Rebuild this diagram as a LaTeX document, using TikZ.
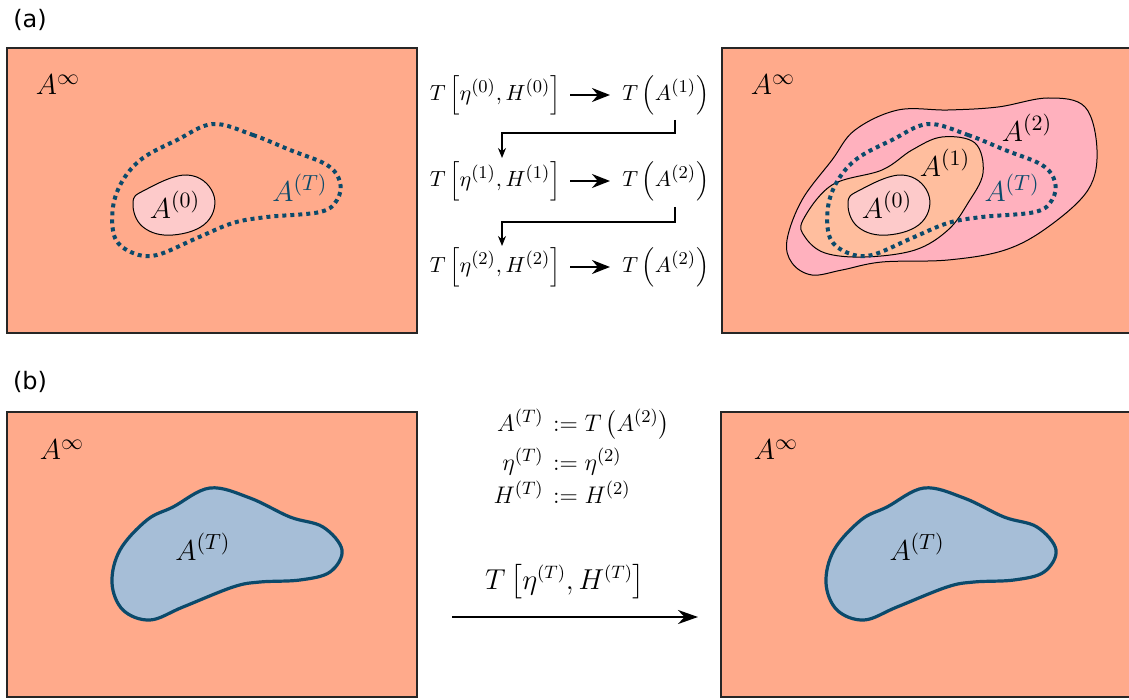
\documentclass[tikz,border=0pt]{standalone}
\usepackage{amsmath}
\usepackage{fontspec}
\newfontfamily\labfont{DejaVu Sans}
\usetikzlibrary{arrows.meta}
\DeclareMathSizes{11}{11}{9.2}{7.5}
\definecolor{bgsal}{HTML}{FFAA8B}
\definecolor{pinkA}{HTML}{FDCACA}
\definecolor{peachA}{HTML}{FFBE9E}
\definecolor{roseA}{HTML}{FFB1BE}
\definecolor{blueA}{HTML}{A6BED7}
\definecolor{navy}{HTML}{0B4A6B}
\begin{document}
\begin{tikzpicture}[x=0.5pt,y=-0.5pt,
  panel/.style={fill=bgsal,draw=black!85,line width=0.6pt},
  blob/.style={draw=black,line width=0.5pt},
  dotline/.style={draw=navy,line width=2pt,dash pattern=on 2pt off 2pt},
  tblob/.style={draw=navy,line width=1.6pt,fill=blueA},
  biglab/.style={font=\fontsize{15}{18}\selectfont,inner sep=0pt},
  midlab/.style={font=\fontsize{11}{13}\selectfont,inner sep=1pt},
  botlab/.style={font=\fontsize{12.5}{15}\selectfont,inner sep=0pt},
  seclab/.style={font=\labfont\fontsize{12}{14}\selectfont,inner sep=0pt},
  harrow/.style={-{Stealth[length=9pt,width=7pt]},line width=1.1pt},
  elbow/.style={-{Stealth[length=5pt,width=4pt]},line width=0.6pt},
  bigarrow/.style={-{Stealth[length=10pt,width=7pt]},line width=1.3pt}]
\useasboundingbox (0,0) rectangle (1129,700);

% section labels
\node[seclab] (la) at (30,20) {(a)};
\node[seclab] (lb) at (30,382) {(b)};

% ---------- panel (a) left ----------
\draw[panel] (7,48) rectangle (417,333);
\node[biglab] (ainf1) at (58,85) {$A^{\infty}$};
\draw[dotline] plot[smooth cycle,tension=0.6] coordinates {
 (213,124) (253,135) (290,150) (327,165) (340,182) (337,200) (320,212)
 (267,217) (233,223) (197,238) (157,255) (133,253) (115,238) (113,207)
 (123,180) (143,158) (177,140)};
\draw[blob,fill=pinkA] plot[smooth cycle,tension=0.7] coordinates {
 (133,203) (145,190) (187,175) (213,193) (207,222) (173,235) (143,227)};
\node[biglab] (a0l) at (175,205) {$A^{(0)}$};
\node[biglab,text=navy] (atl) at (300,188) {$A^{(T)}$};

% ---------- panel (a) right ----------
\draw[panel] (722,48) rectangle (1135,333);
\node[biglab] (ainf2) at (773,85) {$A^{\infty}$};
\draw[blob,fill=roseA] plot[smooth cycle,tension=0.6] coordinates {
 (787,240) (802,200) (832,160) (855,130) (898,110) (948,110) (998,107)
 (1048,98) (1085,107) (1097,150) (1088,190) (1048,227) (1005,250)
 (948,260) (882,262) (842,270) (812,275) (792,263)};
\draw[blob,fill=peachA] plot[smooth cycle,tension=0.6] coordinates {
 (803,220) (832,185) (882,170) (912,150) (942,137) (975,143) (983,173)
 (968,203) (948,230) (915,250) (865,257) (825,253) (805,237)};
\draw[dotline] plot[smooth cycle,tension=0.6] coordinates {
 (928,124) (968,135) (1005,150) (1042,165) (1055,182) (1052,200) (1035,212)
 (982,217) (948,223) (912,238) (872,255) (848,253) (830,238) (828,207)
 (838,180) (858,158) (892,140)};
\draw[blob,fill=pinkA] plot[smooth cycle,tension=0.7] coordinates {
 (848,203) (860,190) (902,175) (928,193) (922,222) (888,235) (858,227)};
\node[biglab] (a0r) at (887,205) {$A^{(0)}$};
\node[biglab] (a1r) at (945,163) {$A^{(1)}$};
\node[biglab] (a2r) at (1027,128) {$A^{(2)}$};
\node[biglab,text=navy] (atr) at (1012,188) {$A^{(T)}$};

% ---------- middle (a) ----------
\node[midlab,anchor=east] (t0) at (563,95) {$T\,\Bigl[\eta^{(0)},H^{(0)}\Bigr]$};
\node[midlab,anchor=west] (r0) at (620,95) {$T\,\Bigl(A^{(1)}\Bigr)$};
\node[midlab,anchor=east] (t1) at (563,181) {$T\,\Bigl[\eta^{(1)},H^{(1)}\Bigr]$};
\node[midlab,anchor=west] (r1) at (620,181) {$T\,\Bigl(A^{(2)}\Bigr)$};
\node[midlab,anchor=east] (t2) at (563,267) {$T\,\Bigl[\eta^{(2)},H^{(2)}\Bigr]$};
\node[midlab,anchor=west] (r2) at (620,267) {$T\,\Bigl(A^{(2)}\Bigr)$};
\coordinate (e0a) at (675,120);
\coordinate (e0b) at (675,133);
\coordinate (e0c) at (502,133);
\coordinate (e0d) at (502,158);
\coordinate (e1a) at (675,207);
\coordinate (e1b) at (675,222);
\coordinate (e1c) at (502,222);
\coordinate (e1d) at (502,246);
\draw[harrow,shorten <=3.5pt,shorten >=5pt] (t0.east) -- (r0.west);
\draw[harrow,shorten <=3.5pt,shorten >=5pt] (t1.east) -- (r1.west);
\draw[harrow,shorten <=3.5pt,shorten >=5pt] (t2.east) -- (r2.west);
\draw[elbow] (e0a) -- (e0b) -- (e0c) -- (e0d);
\draw[elbow] (e1a) -- (e1b) -- (e1c) -- (e1d);

% ---------- panel (b) left ----------
\draw[panel] (7,412) rectangle (417,697);
\node[biglab] (binf1) at (62,450) {$A^{\infty}$};
\draw[tblob] plot[smooth cycle,tension=0.6] coordinates {
 (112,583) (120,550) (147,520) (173,507) (210,488) (250,498) (290,517)
 (323,527) (342,550) (330,572) (300,580) (260,582) (233,587) (183,607)
 (150,620) (123,610)};
\node[biglab] (btl) at (203,547) {$A^{(T)}$};

% ---------- panel (b) right ----------
\draw[panel] (721,412) rectangle (1135,697);
\node[biglab] (binf2) at (776,450) {$A^{\infty}$};
\draw[tblob] plot[smooth cycle,tension=0.6] coordinates {
 (826,583) (834,550) (861,520) (887,507) (924,488) (964,498) (1004,517)
 (1037,527) (1056,550) (1044,572) (1014,580) (974,582) (947,587) (897,607)
 (864,620) (837,610)};
\node[biglab] (btr) at (917,547) {$A^{(T)}$};

% ---------- middle (b) ----------
\node[botlab,anchor=base east] (d1l) at (544,431) {$A^{(T)}$};
\node[botlab,anchor=base west] (d1r) at (546,431) {${}:= T\,\bigl(A^{(2)}\bigr)$};
\node[botlab,anchor=base east] (d2l) at (544,470) {$\eta^{(T)}$};
\node[botlab,anchor=base west] (d2r) at (546,470) {${}:= \eta^{(2)}$};
\node[botlab,anchor=base east] (d3l) at (544,503) {$H^{(T)}$};
\node[botlab,anchor=base west] (d3r) at (546,503) {${}:= H^{(2)}$};
\node[botlab,font=\fontsize{13.5}{16}\selectfont] (tlab) at (565,582) {$T\,\bigl[\eta^{(T)},H^{(T)}\bigr]$};
\coordinate (bs) at (452,617);
\coordinate (be) at (698,617);
\draw[bigarrow] (bs) -- (be);
\end{tikzpicture}
\end{document}
